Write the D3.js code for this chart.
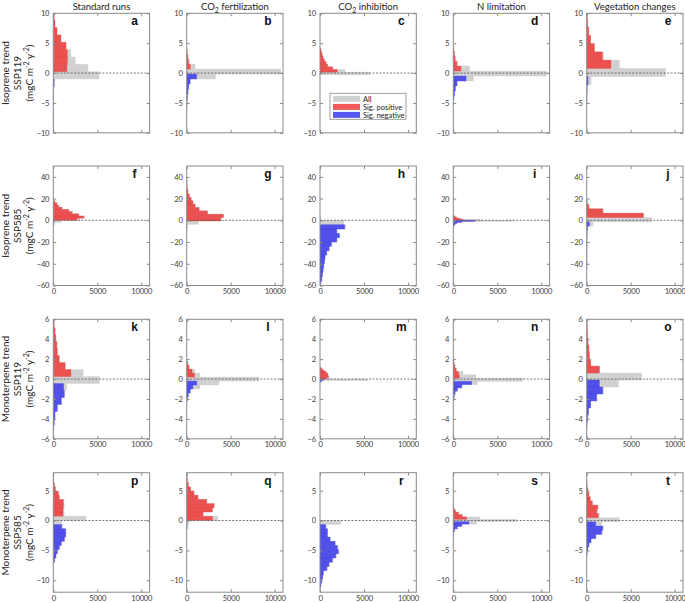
<!DOCTYPE html>
<html><head><meta charset="utf-8">
<script src="https://cdn.jsdelivr.net/npm/d3@7"></script>
<style>body{margin:0;background:#fff}</style></head>
<body><svg id="chart" width="685" height="603"></svg>
<script>
// ---------------- data ----------------
const panelLetters = ["a","b","c","d","e","f","g","h","i","j","k","l","m","n","o","p","q","r","s","t"];
const columnTitles = ["Standard runs", "CO_2 fertilization", "CO_2 inhibition", "N limitation", "Vegetation changes"];
const rowVariables = ["Isoprene trend", "Isoprene trend", "Monoterpene trend", "Monoterpene trend"];
const rowScenarios = ["SSP119", "SSP585", "SSP119", "SSP585"];
const yDomains = [[-10, 10], [-60, 50], [-6, 6], [-12, 8]];
const yTickValues = [[-10, -5, 0, 5, 10], [-60, -40, -20, 0, 20, 40], [-6, -4, -2, 0, 2, 4, 6], [-10, -5, 0, 5]];
const xTickValues = [0, 5000, 10000];
const xDomain = [0, 10950];
const legendLabels = ["All", "Sig. positive", "Sig. negative"];

// histogram bins per panel (a..t): lowest bin edge, bin width
const binStart = [-10.84, -5.98, -0.3, -4.65, -4.74,
                  -4, -6.8, -60, -6, -45.4,
                  -5.35, -2.2, -0.3, -2.21, -5.0,
                  -6.98, -1.38, -11.18, -2.2, -5.83];
const binWidth = [1.23, 0.83, 0.45, 0.83, 1.38,
                  2, 3.1, 4, 1, 4,
                  0.7, 0.4, 0.15, 0.33, 0.7,
                  0.7, 0.7, 0.7, 0.4, 0.7];
// counts per bin (lowest bin first)
const allCounts = [
  [10,10,15,20,20,25,40,150,5200,3950,2500,2000,1450,870,420,190,100],
  [20,40,80,150,250,450,3300,10700,950,300,150,60],
  [5700,2840,1500,900,700,500,350,250,180,100],
  [60,150,250,450,2300,10600,1850,500,250,150,60],
  [30,60,500,8970,3710,1900,900,450,240,110,60],
  [100,900,3000,3600,2950,2200,1800,1000,620,430,200],
  [50,1320,3950,4250,2400,1450,1000,720,520,320,160,90,50,30,15],
  [110,210,280,360,430,520,590,780,1060,1320,1950,2250,1950,2900,2730,100],
  [50,100,220,450,1100,6800,3200,900,400,200,80],
  [15,15,20,20,25,25,30,40,60,120,700,7400,6500,1900,280,60],
  [40,110,200,470,950,1300,1510,5230,3400,1400,700,470,420,290,210,100,30],
  [80,200,450,1500,3670,8200,1500,900,300,120],
  [200,5400,1100,1000,950,900,750,500,250,100],
  [50,100,220,500,1000,2730,7880,2580,1100,350,200,100,40],
  [30,100,210,480,1200,1900,3600,6250,1500,480,320,260,160,100,60,30],
  [160,310,470,700,940,1300,1450,1450,1050,950,3720,1250,1200,1250,1200,700,600,270,130,50],
  [50,260,3560,1900,2950,3150,2300,1300,850,460,210,90,30],
  [110,200,320,400,820,1080,1480,1860,2180,2060,1780,1200,890,880,700,2350],
  [60,150,480,1000,2650,7200,3030,1050,600,250,80],
  [55,130,270,520,1080,1780,1900,1700,3700,1450,1200,1300,680,420,270,150,65,30]
];
const posCounts = [
  [0,0,0,0,0,0,0,0,0,1550,1600,1600,1440,870,420,190,100],
  [0,0,0,0,0,0,0,0,400,200,120,50],
  [0,1970,1400,850,680,480,340,240,170,90],
  [0,0,0,0,0,0,870,400,200,120,50],
  [0,0,0,0,2760,1780,870,440,230,100,50],
  [0,0,2700,3450,2880,2120,1740,980,600,420,190],
  [0,0,3860,4160,2350,1400,950,700,500,300,150,80,40,25,15],
  [0,0,0,0,0,0,0,0,0,0,0,0,0,0,0,0],
  [0,0,0,0,0,0,1100,700,350,180,70],
  [0,0,0,0,0,0,0,0,0,0,0,0,6430,1820,250,50],
  [0,0,0,0,0,0,0,0,2010,1330,670,450,400,280,200,100,30],
  [0,0,0,0,0,0,900,600,250,100],
  [0,0,700,950,900,850,700,480,240,100],
  [0,0,0,0,0,0,0,680,600,330,180,90,40],
  [0,0,0,0,0,0,0,0,1440,450,300,250,150,100,60,30],
  [0,0,0,0,0,0,0,0,0,0,0,1100,1100,1140,1140,680,570,230,120,50],
  [0,0,2920,1850,2920,3100,2270,1280,830,450,200,80,30],
  [0,0,0,0,0,0,0,0,0,0,0,0,0,0,0,0],
  [0,0,0,0,0,0,1520,1000,580,240,80],
  [0,0,0,0,0,0,0,0,0,1320,1140,1250,640,400,250,140,60,30]
];
const negCounts = [
  [10,10,15,20,20,25,40,100,0,0,0,0,0,0,0,0,0],
  [20,40,80,150,230,380,1130,0,0,0,0,0],
  [0,0,0,0,0,0,0,0,0,0],
  [60,150,230,420,1450,0,0,0,0,0,0],
  [30,50,150,0,0,0,0,0,0,0,0],
  [60,0,0,0,0,0,0,0,0,0,0],
  [30,0,0,0,0,0,0,0,0,0,0,0,0,0,0],
  [100,200,270,350,420,500,570,760,1030,1290,1900,2200,1900,2800,0,0],
  [50,100,200,400,900,2460,0,0,0,0,0],
  [15,15,20,20,25,25,30,40,50,80,300,0,0,0,0,0],
  [40,110,190,450,910,1250,1170,0,0,0,0,0,0,0,0,0,0],
  [70,180,400,700,1140,0,0,0,0,0],
  [150,380,0,0,0,0,0,0,0,0],
  [50,100,200,450,950,2080,0,0,0,0,0,0,0],
  [30,100,200,450,1130,1820,1440,0,0,0,0,0,0,0,0,0],
  [150,300,450,680,910,1250,1400,1400,950,0,0,0,0,0,0,0,0,0,0,0],
  [50,0,0,0,0,0,0,0,0,0,0,0,0],
  [100,190,300,380,780,1020,1400,1780,2080,1970,1700,1140,840,840,650,0],
  [60,150,450,950,1780,0,0,0,0,0,0],
  [50,120,250,490,1020,1700,1820,1020,0,0,0,0,0,0,0,0,0,0]
];

// ---------------- layout ----------------
const colLeft = [53.3, 186.7, 320, 453.3, 586.7];
const rowTop = [13.3, 166, 319.3, 472.7];
const PW = 96.3, PH = 119.5;
const COL_ALL = "#c9c9c9", COL_POS = "#ee3b3b", COL_NEG = "#3b3bee";
const AX = "#8a8a8a", TXT = "#404040";
const FONT = "Lato, 'Open Sans', sans-serif";

const svg = d3.select("#chart").style("font-family", FONT);
const defs = svg.append("defs");

function addSubText(sel, str) {
  const parts = str.split("_");
  sel.append("tspan").text(parts[0]);
  if (parts.length > 1) {
    sel.append("tspan").attr("dy", 3).attr("font-size", "7px").text(parts[1][0]);
    sel.append("tspan").attr("dy", -3).text(parts[1].slice(1));
  }
}

const x = d3.scaleLinear().domain(xDomain).range([0, PW]);

panelLetters.forEach((letter, i) => {
  const row = Math.floor(i / 5), col = i % 5;
  const y = d3.scaleLinear().domain(yDomains[row]).range([PH, 0]);
  const g = svg.append("g").attr("transform", `translate(${colLeft[col]},${rowTop[row]})`);
  defs.append("clipPath").attr("id", "clip" + i)
    .append("rect").attr("x", 0).attr("y", 0).attr("width", PW).attr("height", PH);
  const plot = g.append("g").attr("clip-path", `url(#clip${i})`);

  const bins = allCounts[i].map((v, k) => ({
    lo: binStart[i] + k * binWidth[i],
    hi: binStart[i] + (k + 1) * binWidth[i],
    all: v, pos: posCounts[i][k], neg: negCounts[i][k]
  }));

  const drawSeries = (key, color, op) => {
    plot.append("g").selectAll("rect")
      .data(bins.filter(b => b[key] > 0))
      .join("rect")
      .attr("x", x(0))
      .attr("y", b => y(b.hi))
      .attr("width", b => x(b[key]) - x(0))
      .attr("height", b => y(b.lo) - y(b.hi))
      .attr("fill", color)
      .attr("fill-opacity", op)
      .attr("stroke", color)
      .attr("stroke-opacity", 0.35)
      .attr("stroke-width", 0.8);
  };
  drawSeries("all", COL_ALL, 0.85);
  drawSeries("pos", COL_POS, 0.85);
  drawSeries("neg", COL_NEG, 0.85);

  g.append("line").attr("x1", 0).attr("x2", PW).attr("y1", y(0)).attr("y2", y(0))
    .attr("stroke", "#555").attr("stroke-width", 0.8).attr("stroke-dasharray", "2,1.5");

  const styleAxis = sel => {
    sel.select(".domain").remove();
    sel.selectAll(".tick line").attr("stroke", AX);
    sel.selectAll(".tick text").attr("fill", TXT).attr("font-size", "7.6px")
      .attr("letter-spacing", "-0.2px").attr("font-family", FONT);
  };
  g.append("g").attr("transform", `translate(0,${PH})`)
    .call(d3.axisBottom(x).tickValues(xTickValues).tickSize(-3).tickPadding(3)
      .tickFormat(row === 0 ? () => "" : d3.format("d")))
    .call(styleAxis);
  g.append("g")
    .call(d3.axisTop(x).tickValues(xTickValues).tickSize(-3).tickFormat(() => ""))
    .call(styleAxis);
  g.append("g")
    .call(d3.axisLeft(y).tickValues(yTickValues[row]).tickSize(-3).tickPadding(4).tickFormat(d3.format("d")))
    .call(styleAxis);
  g.append("g").attr("transform", `translate(${PW},0)`)
    .call(d3.axisRight(y).tickValues(yTickValues[row]).tickSize(-3).tickFormat(() => ""))
    .call(styleAxis);
  g.append("rect").attr("width", PW).attr("height", PH)
    .attr("fill", "none").attr("stroke", AX).attr("stroke-width", 1);

  g.append("text").attr("x", PW - 15).attr("y", 12).attr("text-anchor", "middle")
    .attr("font-family", "'Liberation Sans', Arial, sans-serif").attr("font-weight", "bold")
    .attr("font-size", "12px").attr("fill", "#111").text(letter);

  if (row === 0) {
    const t = g.append("text").attr("x", PW / 2).attr("y", -3).attr("text-anchor", "middle")
      .attr("font-size", "9.5px").attr("fill", "#222");
    addSubText(t, columnTitles[col]);
  }

  if (i === 2) {
    const lg = g.append("g").attr("transform", "translate(10,80)");
    lg.append("rect").attr("width", 76).attr("height", 26).attr("fill", "#fff")
      .attr("stroke", AX).attr("stroke-width", 0.8);
    [COL_ALL, COL_POS, COL_NEG].forEach((c, k) => {
      lg.append("rect").attr("x", 3).attr("y", 2.6 + k * 8).attr("width", 27).attr("height", 6)
        .attr("fill", c).attr("fill-opacity", 0.85);
      lg.append("text").attr("x", 33).attr("y", 8.3 + k * 8).attr("font-size", "7.5px")
        .attr("fill", "#222").text(legendLabels[k]);
    });
  }
});

rowVariables.forEach((v, r) => {
  const cy = rowTop[r] + PH / 2;
  const lab = svg.append("g").attr("fill", "#222").attr("font-size", "10px").attr("text-anchor", "middle");
  lab.append("text").attr("transform", `translate(9,${cy}) rotate(-90)`).text(v);
  lab.append("text").attr("transform", `translate(21,${cy}) rotate(-90)`).text(rowScenarios[r]);
  const u = lab.append("text").attr("transform", `translate(33,${cy}) rotate(-90)`);
  u.append("tspan").text("(mgC m");
  u.append("tspan").attr("dy", -4).attr("font-size", "7px").text("-2");
  u.append("tspan").attr("dy", 4).text(" y");
  u.append("tspan").attr("dy", -4).attr("font-size", "7px").text("-2");
  u.append("tspan").attr("dy", 4).text(")");
});
</script>
</body></html>
